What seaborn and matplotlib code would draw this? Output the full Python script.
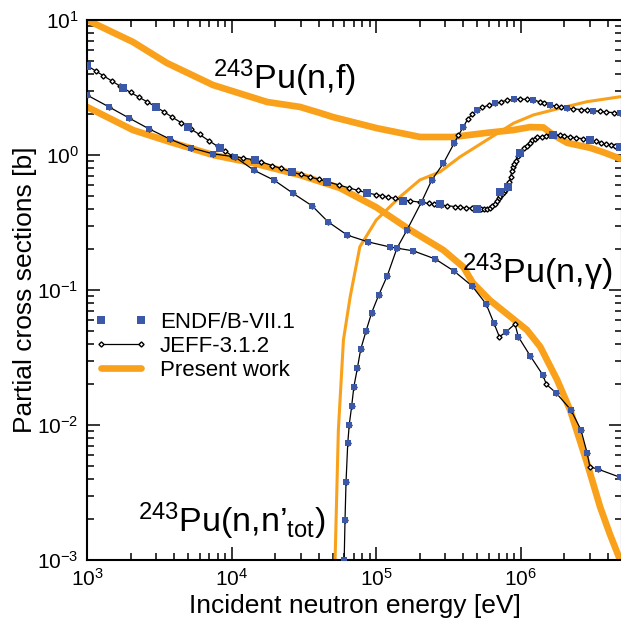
import matplotlib
matplotlib.use("Agg")
import matplotlib.pyplot as plt
from matplotlib.ticker import LogLocator, NullFormatter
import seaborn as sns
import pandas as pd

# ---------------- data (energies in eV, cross sections in barn) ----------------
# Fission
fis_pw_E = [1.0e3, 2.08e3, 3.57e3, 7.43e3, 1.76e4, 2.97e4, 4.08e4, 5.02e4, 1.01e5, 2.01e5, 3.40e5,
            5.83e5, 8.83e5, 1.16e6, 1.43e6, 1.67e6, 2.09e6, 3.01e6, 3.70e6, 4.85e6]
fis_pw_s = [10.0, 6.87, 4.80, 3.30, 2.47, 2.27, 2.05, 1.91, 1.58, 1.36, 1.36,
            1.46, 1.53, 1.61, 1.60, 1.41, 1.23, 1.13, 1.05, 0.94]

fis_endf_E = [1.0e3, 1.77e3, 3.0e3, 5.0e3, 8.3e3, 1.45e4, 2.6e4, 4.6e4, 8.6e4, 1.53e5, 2.76e5,
              5.0e5, 7.2e5, 8.1e5, 9.9e5, 1.66e6, 3.0e6, 4.85e6]
fis_endf_s = [4.6, 3.13, 2.27, 1.61, 1.13, 0.92, 0.75, 0.63, 0.52, 0.46, 0.43,
              0.40, 0.53, 0.58, 1.04, 1.41, 1.29, 1.15]

fis_jeff_E = [1.0e3, 1.15e3, 1.3e3, 1.5e3, 1.7e3, 2.0e3, 2.3e3, 2.6e3, 3.0e3, 3.4e3, 3.9e3, 4.5e3,
              5.2e3, 6.0e3, 7.0e3, 8.0e3, 9.0e3, 1.0e4, 1.2e4, 1.4e4, 1.6e4, 1.9e4, 2.2e4, 2.6e4,
              3.0e4, 3.5e4, 4.0e4, 4.6e4, 5.5e4, 6.5e4, 7.5e4, 8.6e4, 1.0e5, 1.1e5, 1.2e5, 1.35e5,
              1.5e5, 1.7e5, 2.0e5, 2.3e5, 2.5e5, 2.8e5, 3.1e5, 3.5e5, 3.8e5, 4.2e5, 4.6e5, 5.0e5,
              5.3e5, 5.6e5, 5.8e5, 6.1e5, 6.3e5, 6.6e5, 6.8e5, 7.0e5, 7.2e5, 7.4e5, 7.6e5, 7.8e5,
              8.0e5, 8.1e5, 8.3e5, 8.5e5, 8.65e5, 8.8e5, 9.0e5, 9.2e5, 9.5e5, 9.9e5, 1.05e6, 1.1e6,
              1.15e6, 1.2e6, 1.25e6, 1.3e6, 1.4e6, 1.5e6, 1.6e6, 1.7e6, 1.85e6, 2.0e6, 2.2e6, 2.4e6,
              2.7e6, 3.0e6, 3.3e6, 3.6e6, 3.9e6, 4.2e6, 4.5e6, 4.85e6]
fis_jeff_s = [4.60, 4.19, 3.86, 3.51, 3.23, 2.91, 2.67, 2.48, 2.27, 2.09, 1.90, 1.73,
              1.56, 1.42, 1.27, 1.16, 1.07, 0.99, 0.95, 0.925, 0.89, 0.836, 0.795, 0.75,
              0.718, 0.687, 0.66, 0.633, 0.60, 0.57, 0.546, 0.524, 0.508, 0.499, 0.489, 0.477,
              0.467, 0.458, 0.447, 0.438, 0.433, 0.426, 0.421, 0.415, 0.411, 0.406, 0.403, 0.398,
              0.398, 0.398, 0.400, 0.405, 0.417, 0.436, 0.457, 0.478, 0.495, 0.51, 0.531, 0.55,
              0.569, 0.58, 0.63, 0.69, 0.759, 0.81, 0.861, 0.91, 0.977, 1.05, 1.12, 1.17,
              1.23, 1.29, 1.32, 1.36, 1.37, 1.39, 1.40, 1.41, 1.40, 1.38, 1.36, 1.34,
              1.32, 1.29, 1.26, 1.23, 1.20, 1.19, 1.16, 1.15]

# Capture
cap_pw_E = [1.0e3, 2.08e3, 3.75e3, 7.43e3, 1.41e4, 2.97e4, 5.6e4, 1.0e5, 1.7e5, 2.9e5, 4.0e5,
            4.65e5, 6.1e5, 1.1e6, 1.36e6, 1.78e6, 2.19e6, 2.87e6, 3.53e6, 4.1e6, 4.85e6]
cap_pw_s = [2.27, 1.53, 1.25, 1.0, 0.87, 0.71, 0.57, 0.41, 0.28, 0.198, 0.148,
            0.113, 0.084, 0.0506, 0.038, 0.0216, 0.0129, 0.0052, 0.00247, 0.00158, 0.0010]

cap_endf_E = [1.0e3, 1.42e3, 1.95e3, 2.69e3, 3.75e3, 5.24e3, 7.43e3, 1.05e4, 1.43e4, 1.97e4,
              2.66e4, 3.6e4, 4.64e4, 6.3e4, 8.8e4, 1.25e5, 1.8e5, 2.55e5, 3.45e5, 4.6e5,
              5.75e5, 6.5e5, 7.9e5, 9.6e5, 1.16e6, 1.42e6, 1.75e6, 2.22e6, 2.6e6, 2.87e6,
              3.43e6, 4.85e6]
cap_endf_s = [2.78, 2.27, 1.88, 1.56, 1.31, 1.13, 1.02, 0.97, 0.77, 0.65,
              0.52, 0.42, 0.32, 0.255, 0.227, 0.208, 0.195, 0.17, 0.138, 0.107,
              0.0787, 0.057, 0.049, 0.045, 0.0325, 0.0234, 0.0173, 0.0129, 0.0092, 0.0062,
              0.0047, 0.0041]

cap_jeff_E = [1.0e3, 1.42e3, 1.95e3, 2.69e3, 3.75e3, 5.24e3, 7.43e3, 1.05e4, 1.43e4, 1.97e4,
              2.66e4, 3.6e4, 4.64e4, 6.3e4, 8.8e4, 1.25e5, 1.8e5, 2.55e5, 3.45e5, 4.6e5,
              5.75e5, 6.5e5, 7.1e5, 7.9e5, 9.1e5, 9.6e5, 1.16e6, 1.42e6, 1.5e6, 1.75e6,
              2.22e6, 2.6e6, 2.87e6, 3.0e6, 3.43e6, 4.85e6]
cap_jeff_s = [2.78, 2.27, 1.88, 1.56, 1.31, 1.13, 1.02, 0.97, 0.77, 0.65,
              0.52, 0.42, 0.32, 0.255, 0.227, 0.208, 0.195, 0.17, 0.138, 0.107,
              0.0787, 0.057, 0.045, 0.049, 0.056, 0.045, 0.0325, 0.0234, 0.020, 0.0173,
              0.0129, 0.0092, 0.0062, 0.0049, 0.0047, 0.0041]

# Inelastic
inl_pw_E = [5.19e4, 5.47e4, 5.93e4, 6.6e4, 7.7e4, 1.0e5, 1.46e5, 2.0e5, 2.76e5, 3.8e5,
            5.8e5, 8.9e5, 1.22e6, 1.68e6, 2.85e6, 4.85e6]
inl_pw_s = [0.001, 0.0092, 0.0427, 0.089, 0.209, 0.33, 0.49, 0.653, 0.75, 0.97,
            1.29, 1.72, 1.98, 2.16, 2.48, 2.70]

inl_endf_E = [6.0e4, 6.08e4, 6.18e4, 6.35e4, 6.5e4, 6.76e4, 7.0e4, 7.4e4, 7.8e4, 8.5e4,
              9.3e4, 1.04e5, 1.19e5, 1.39e5, 1.63e5, 2.06e5, 2.42e5, 2.91e5, 3.45e5, 4.0e5,
              4.95e5, 6.6e5, 8.9e5, 1.22e6, 1.59e6, 2.08e6, 3.17e6, 4.85e6]
inl_endf_s = [0.0010, 0.00198, 0.0038, 0.0073, 0.010, 0.0138, 0.0192, 0.0263, 0.0363, 0.0497,
              0.068, 0.0918, 0.127, 0.204, 0.278, 0.451, 0.653, 0.867, 1.22, 1.62,
              2.16, 2.41, 2.58, 2.55, 2.35, 2.22, 2.13, 2.04]

inl_jeff_E = [6.0e4, 6.08e4, 6.18e4, 6.35e4, 6.5e4, 6.76e4, 7.0e4, 7.4e4, 7.8e4, 8.5e4,
              9.3e4, 1.04e5, 1.19e5, 1.39e5, 1.63e5, 2.06e5, 2.42e5, 2.91e5, 3.45e5, 3.7e5,
              4.0e5, 4.3e5, 4.6e5, 4.95e5, 5.4e5, 6.0e5, 6.6e5, 7.3e5, 8.0e5, 8.9e5,
              9.8e5, 1.1e6, 1.22e6, 1.35e6, 1.45e6, 1.59e6, 1.75e6, 1.9e6, 2.08e6, 2.3e6,
              2.6e6, 2.85e6, 3.17e6, 3.5e6, 3.9e6, 4.4e6, 4.85e6]
inl_jeff_s = [0.0010, 0.00198, 0.0038, 0.0073, 0.010, 0.0138, 0.0192, 0.0263, 0.0363, 0.0497,
              0.068, 0.0918, 0.127, 0.204, 0.278, 0.451, 0.653, 0.867, 1.22, 1.40,
              1.62, 1.85, 2.00, 2.16, 2.25, 2.34, 2.41, 2.48, 2.54, 2.58,
              2.60, 2.58, 2.55, 2.48, 2.42, 2.35, 2.29, 2.25, 2.22, 2.20,
              2.17, 2.15, 2.13, 2.11, 2.08, 2.06, 2.04]

legend_labels = ["ENDF/B-VII.1", "JEFF-3.1.2", "Present work"]
reaction_labels = [r"$^{243}$Pu(n,f)", r"$^{243}$Pu(n,γ)", r"$^{243}$Pu(n,n’$_{\rm tot}$)"]

# ---------------- style ----------------
sns.set_style("ticks")
plt.rcParams["font.family"] = ["Liberation Sans", "DejaVu Sans"]
plt.rcParams["mathtext.fontset"] = "custom"
plt.rcParams["mathtext.rm"] = "Liberation Sans"
plt.rcParams["mathtext.it"] = "Liberation Sans:italic"
plt.rcParams["mathtext.bf"] = "Liberation Sans:bold"
plt.rcParams["mathtext.default"] = "regular"
plt.rcParams["text.color"] = "black"
plt.rcParams["axes.labelcolor"] = "black"
plt.rcParams["axes.edgecolor"] = "black"
plt.rcParams["xtick.color"] = "black"
plt.rcParams["ytick.color"] = "black"

BLUE = "#3b59a8"
ORANGE = "#f9a11b"

fig = plt.figure(figsize=(6.21, 6.22), dpi=100)
ax = fig.add_axes([87 / 621, 62 / 622, 535 / 621, 540 / 622])
ax.set_xscale("log")
ax.set_yscale("log")


def draw(E, s, **kw):
    df = pd.DataFrame({"E": E, "s": s})
    sns.lineplot(data=df, x="E", y="s", ax=ax, sort=False, estimator=None, **kw)


# present work
draw(fis_pw_E, fis_pw_s, color=ORANGE, lw=4.8, label=legend_labels[2], zorder=2)
draw(cap_pw_E, cap_pw_s, color=ORANGE, lw=4.8, label="_nolegend_", zorder=2)
draw(inl_pw_E, inl_pw_s, color=ORANGE, lw=2.2, label="_nolegend_", zorder=2)

# JEFF
jeff_kw = dict(color="black", lw=0.9, marker="D", ms=2.6, mfc="white", mec="black", mew=1.0, zorder=3)
draw(fis_jeff_E, fis_jeff_s, label=legend_labels[1], **jeff_kw)
draw(cap_jeff_E, cap_jeff_s, label="_nolegend_", **jeff_kw)
draw(inl_jeff_E, inl_jeff_s, label="_nolegend_", **jeff_kw)

# ENDF
draw(fis_endf_E, fis_endf_s, color=BLUE, linestyle="none", marker="s", ms=6.4, mec=BLUE,
     mew=0, label=legend_labels[0], zorder=4)
draw(cap_endf_E, cap_endf_s, color=BLUE, linestyle="none", marker="s", ms=4.5, mec=BLUE,
     mew=0, label="_nolegend_", zorder=4)
draw(inl_endf_E, inl_endf_s, color=BLUE, linestyle="none", marker="s", ms=4.2, mec=BLUE,
     mew=0, label="_nolegend_", zorder=4)

ax.set_xlim(1e3, 5e6)
ax.set_ylim(1e-3, 1e1)

for a in (ax.xaxis, ax.yaxis):
    a.set_major_locator(LogLocator(base=10, numticks=20))
    a.set_minor_locator(LogLocator(base=10, subs=[2, 3, 4, 5, 6, 7, 8, 9], numticks=100))
    a.set_minor_formatter(NullFormatter())

for sp in ax.spines.values():
    sp.set_linewidth(1.5)
    sp.set_visible(True)
    sp.set_color("black")
ax.tick_params(which="both", direction="in", top=True, right=True, width=1.1,
               color="black", labelcolor="black")
ax.tick_params(which="major", length=9.5, labelsize=15, pad=6)
ax.tick_params(which="minor", length=4.8)

ax.set_xlabel("Incident neutron energy [eV]", fontsize=19, labelpad=3)
ax.set_ylabel("Partial cross sections [b]", fontsize=19, labelpad=0)

# legend (order: ENDF, JEFF, present)
h, l = ax.get_legend_handles_labels()
order = [l.index(t) for t in legend_labels]
leg = ax.legend([h[i] for i in order], [l[i] for i in order], loc="upper left",
                bbox_to_anchor=(0.005, 0.468), frameon=False, fontsize=16, numpoints=2,
                handlelength=2.4, handletextpad=0.55, labelspacing=0.13, borderaxespad=0.0,
                borderpad=0.2)

# reaction labels
fig.text(213 / 621, 1 - 89 / 622, reaction_labels[0], fontsize=24.5, ha="left", va="baseline")
fig.text(462 / 621, 1 - 283 / 622, reaction_labels[1], fontsize=24.5, ha="left", va="baseline")
fig.text(138 / 621, 1 - 532 / 622, reaction_labels[2], fontsize=24.5, ha="left", va="baseline")

fig.savefig("out.png", dpi=100)
